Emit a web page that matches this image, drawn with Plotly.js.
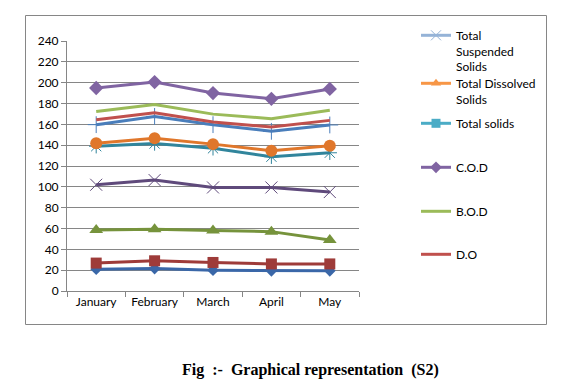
<!DOCTYPE html>
<html>
<head>
<meta charset="utf-8">
<script src="https://cdn.plot.ly/plotly-3.0.1.min.js"></script>
<style>
html,body{margin:0;padding:0;background:#fff;}
#chart{width:584px;height:392px;}
</style>
</head>
<body>
<div id="chart"></div>
<script>
// Categories
const months = ["January", "February", "March", "April", "May"];

// Plotted series
const blueDiamond   = [21, 21.5, 20, 19.4, 19.4];
const redSquare     = [26.8, 29, 27.4, 26, 26];
const greenTriangle = [58.5, 59.4, 58, 57, 49];
const purpleX       = [102, 106.5, 99.4, 99.4, 95];
const tealStar      = [139, 141.6, 137, 128.9, 132.7];
const orangeCircle  = [141.9, 146.7, 141, 134.6, 139.4];
const bluePlus      = [159.7, 167.6, 159.7, 153.3, 159.4];
const redLine       = [164.4, 171, 162.2, 157.5, 163.8];
const greenLine     = [172.4, 179, 169.8, 165.4, 173.6];
const purpleDiamond = [194.9, 200.6, 190, 184.5, 194];

// Legend names
const legendNames = ["Total<br>Suspended<br>Solids", "Total Dissolved<br>Solids", "Total solids", "C.O.D", "B.O.D", "D.O"];

// Y ticks
const yTicks = [0, 20, 40, 60, 80, 100, 120, 140, 160, 180, 200, 220, 240];

const FONT = "Lato, 'Open Sans', sans-serif";

function line(y, color, symbol, size, mline) {
  const t = {
    x: months, y: y, type: "scatter", mode: symbol ? "lines+markers" : "lines",
    line: {color: color, width: 3}, showlegend: false, hoverinfo: "skip"
  };
  if (symbol) t.marker = mline ? {symbol: symbol, size: size, color: color, line: {color: color, width: 1}} : {symbol: symbol, size: size, color: color};
  return t;
}

const traces = [
  line(blueDiamond, "#3A67A8", "diamond", 9),
  line(redSquare, "#9E3B39", "square", 11),
  line(greenTriangle, "#76933C", "triangle-up", 12),
  line(purpleX, "#5F4A7B", "x-thin-open", 12, true),
  line(tealStar, "#31859C", "asterisk-open", 12, true),
  line(orangeCircle, "#E0772B", "circle", 12),
  line(bluePlus, "#4A7EBB", "cross-thin-open", 12, true),
  line(redLine, "#C0504D"),
  line(greenLine, "#9BBB59"),
  line(purpleDiamond, "#8064A2", "diamond", 11)
];

// legend-only entries
const legendStyles = [
  {color: "#95B3D7", symbol: "x-thin-open", mline: true},
  {color: "#F79646", symbol: "triangle-up"},
  {color: "#4BACC6", symbol: "square"},
  {color: "#8064A2", symbol: "diamond"},
  {color: "#9BBB59", symbol: null},
  {color: "#C0504D", symbol: null}
];
const legendTops = [31, 79, 119, 163, 207, 250];

const layout = {
  width: 584, height: 392,
  margin: {l: 67, r: 225, t: 41, b: 101},
  paper_bgcolor: "#fff", plot_bgcolor: "#fff",
  font: {family: FONT, size: 12, color: "#000"},
  xaxis: {
    type: "category", range: [-0.5, 4.5], showgrid: false, zeroline: false,
    showline: true, linecolor: "#868686", linewidth: 1,
    ticks: "outside", ticklen: 5, tickcolor: "#868686", tickson: "boundaries",
    tickfont: {family: FONT, size: 12, color: "#000"}
  },
  yaxis: {
    range: [0, 240], tickvals: yTicks, ticktext: yTicks.map(String),
    showgrid: true, gridcolor: "#868686", gridwidth: 1, zeroline: false,
    showline: true, linecolor: "#868686", linewidth: 1,
    ticks: "outside", ticklen: 5, tickcolor: "#868686",
    tickfont: {family: FONT, size: 12, color: "#000"}
  },
  shapes: [
    {type: "rect", xref: "paper", yref: "paper",
     x0: (25.5 - 67) / 292, x1: (546.5 - 67) / 292,
     y0: (392 - 101 - 324.5) / 250, y1: (392 - 101 - 15.5) / 250,
     line: {color: "#868686", width: 1}, fillcolor: "rgba(0,0,0,0)", layer: "below"}
  ],
  annotations: [
    {text: "Fig\u00A0 :-\u00A0 Graphical representation\u00A0 (S2)", xref: "paper", yref: "paper",
     x: (310 - 67) / 292, y: (392 - 101 - 370) / 250, xanchor: "center", yanchor: "middle",
     showarrow: false, font: {family: "'Liberation Serif', 'Times New Roman', serif", size: 16, color: "#000", weight: "bold"}}
  ]
};

legendNames.forEach((name, i) => {
  const key = i === 0 ? "legend" : "legend" + (i + 1);
  const s = legendStyles[i];
  const t = {
    x: [null], y: [null], type: "scatter", name: name,
    mode: s.symbol ? "lines+markers" : "lines",
    line: {color: s.color, width: 3}, legend: key, showlegend: true, hoverinfo: "skip"
  };
  if (s.symbol) t.marker = s.mline ? {symbol: s.symbol, size: 10, color: s.color, line: {color: s.color, width: 1}} : {symbol: s.symbol, size: 9, color: s.color};
  traces.push(t);
  layout[key] = {
    x: (416 - 67) / 292, xanchor: "left",
    y: (392 - 101 - (legendTops[i] - 10)) / 250, yanchor: "top",
    bgcolor: "rgba(0,0,0,0)", borderwidth: 0, itemwidth: 30,
    valign: "top", font: {family: FONT, size: 12, color: "#000"},
    itemclick: false, itemdoubleclick: false
  };
});

Plotly.newPlot("chart", traces, layout, {displayModeBar: false, staticPlot: true});
</script>
</body>
</html>
